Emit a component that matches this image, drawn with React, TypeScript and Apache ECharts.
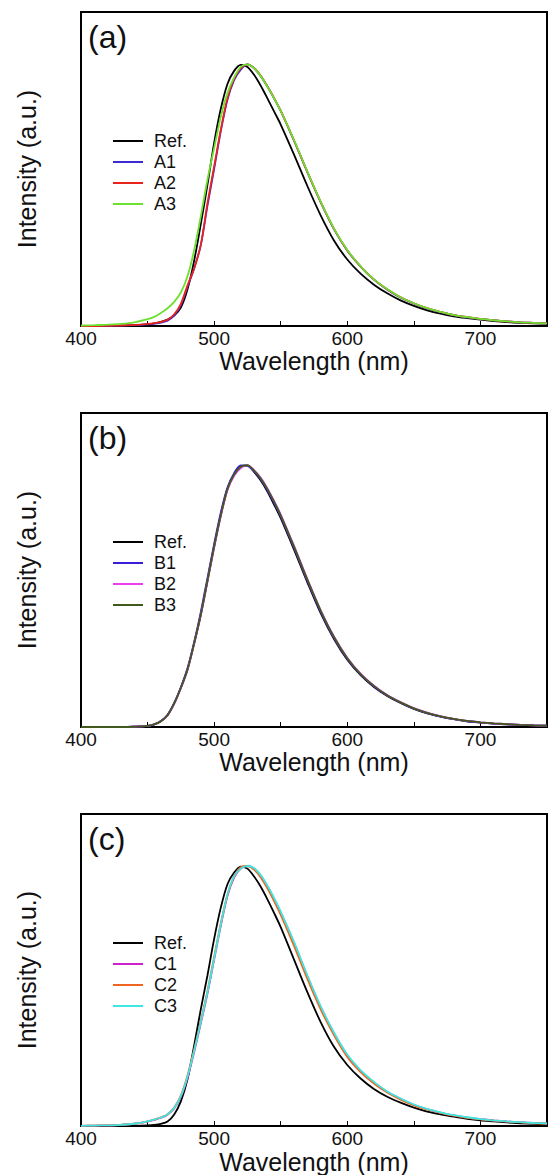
import React, { useEffect, useRef } from "react";
import * as echarts from "echarts";

// ---------- data ----------
const wavelengths = [
  400, 410, 420, 430, 440, 450,
  455, 460, 465, 470, 475, 480, 485, 490, 495, 500, 505, 510, 515, 520, 525, 530, 535, 540, 545, 550,
  560, 570, 580, 590, 600, 610, 620, 630, 640, 650, 660, 670, 680, 690, 700, 710, 720, 730, 740, 750,
];
const xTickValues = [400, 500, 600, 700];

// panel (a)
const refA = [
  0, 0, 0, 0.001, 0.003, 0.006,
  0.01, 0.016, 0.025, 0.04, 0.07, 0.14, 0.25, 0.39, 0.54, 0.7, 0.83, 0.925, 0.975, 0.998, 0.99, 0.96, 0.918, 0.87, 0.82, 0.77,
  0.655, 0.535, 0.423, 0.327, 0.254, 0.2, 0.158, 0.125, 0.098, 0.077, 0.06, 0.047, 0.037, 0.03, 0.024, 0.019, 0.015, 0.012, 0.01, 0.009,
];
const a1 = [
  0, 0, 0.001, 0.002, 0.003, 0.006,
  0.009, 0.013, 0.02, 0.04, 0.08, 0.15, 0.22, 0.31, 0.46, 0.6, 0.745, 0.865, 0.94, 0.98, 1.0, 0.985, 0.955, 0.915, 0.87, 0.822,
  0.708, 0.588, 0.473, 0.37, 0.288, 0.227, 0.177, 0.139, 0.109, 0.086, 0.067, 0.053, 0.042, 0.033, 0.027, 0.022, 0.018, 0.014, 0.012, 0.01,
];
const a2 = [
  0, 0, 0.001, 0.002, 0.004, 0.008,
  0.011, 0.016, 0.024, 0.045, 0.085, 0.155, 0.22, 0.31, 0.47, 0.61, 0.75, 0.87, 0.945, 0.985, 1.0, 0.986, 0.956, 0.916, 0.871, 0.823,
  0.709, 0.589, 0.474, 0.371, 0.289, 0.228, 0.178, 0.14, 0.11, 0.087, 0.068, 0.054, 0.042, 0.034, 0.027, 0.022, 0.018, 0.014, 0.012, 0.01,
];
const a3 = [
  0.002, 0.003, 0.005, 0.008, 0.014, 0.026,
  0.035, 0.05, 0.068, 0.092, 0.128, 0.19, 0.29, 0.42, 0.56, 0.68, 0.8, 0.89, 0.95, 0.99, 1.0, 0.985, 0.955, 0.915, 0.87, 0.822,
  0.71, 0.59, 0.475, 0.372, 0.29, 0.228, 0.178, 0.14, 0.11, 0.087, 0.068, 0.054, 0.042, 0.034, 0.027, 0.022, 0.018, 0.014, 0.012, 0.01,
];

// panel (b)
const refB = [
  0, 0, 0, 0, 0.001, 0.004,
  0.01, 0.022, 0.045, 0.09, 0.15, 0.22, 0.32, 0.43, 0.56, 0.69, 0.81, 0.91, 0.965, 0.995, 1.0, 0.975, 0.942, 0.9, 0.85, 0.798,
  0.678, 0.553, 0.435, 0.336, 0.257, 0.198, 0.153, 0.119, 0.092, 0.069, 0.052, 0.04, 0.03, 0.022, 0.017, 0.013, 0.01, 0.008, 0.006, 0.005,
];
const b1 = [
  0, 0, 0, 0, 0.001, 0.004,
  0.01, 0.023, 0.047, 0.092, 0.152, 0.225, 0.325, 0.44, 0.57, 0.7, 0.82, 0.915, 0.97, 1.0, 0.998, 0.977, 0.946, 0.905, 0.856, 0.804,
  0.684, 0.558, 0.44, 0.34, 0.26, 0.2, 0.155, 0.12, 0.093, 0.07, 0.053, 0.04, 0.03, 0.022, 0.017, 0.013, 0.01, 0.008, 0.006, 0.005,
];
const b2 = [
  0, 0, 0, 0, 0.001, 0.004,
  0.01, 0.022, 0.044, 0.088, 0.148, 0.218, 0.318, 0.428, 0.555, 0.685, 0.805, 0.905, 0.96, 0.99, 1.0, 0.982, 0.952, 0.912, 0.864, 0.812,
  0.692, 0.566, 0.447, 0.346, 0.265, 0.204, 0.158, 0.122, 0.095, 0.072, 0.055, 0.042, 0.031, 0.023, 0.018, 0.014, 0.011, 0.008, 0.006, 0.005,
];
const b3 = [
  0, 0, 0, 0, 0.001, 0.004,
  0.01, 0.022, 0.045, 0.09, 0.15, 0.22, 0.32, 0.43, 0.56, 0.69, 0.81, 0.91, 0.965, 0.995, 1.0, 0.98, 0.95, 0.909, 0.861, 0.809,
  0.689, 0.563, 0.445, 0.344, 0.263, 0.202, 0.157, 0.121, 0.094, 0.071, 0.054, 0.041, 0.031, 0.023, 0.018, 0.014, 0.011, 0.008, 0.006, 0.005,
];

// panel (c)
const refC = [
  0, 0, 0, 0, 0.001, 0.003,
  0.005, 0.009, 0.018, 0.045, 0.095, 0.18, 0.31, 0.45, 0.58, 0.72, 0.84, 0.93, 0.975, 0.998, 0.99, 0.96, 0.92, 0.872, 0.82, 0.765,
  0.64, 0.515, 0.4, 0.305, 0.235, 0.183, 0.143, 0.113, 0.09, 0.071, 0.056, 0.045, 0.036, 0.028, 0.022, 0.018, 0.014, 0.011, 0.009, 0.007,
];
const c1 = [
  0.001, 0.002, 0.003, 0.005, 0.009, 0.017,
  0.024, 0.032, 0.044, 0.068, 0.112, 0.186, 0.285, 0.395, 0.51, 0.64, 0.77, 0.885, 0.955, 0.99, 1.0, 0.99, 0.962, 0.922, 0.874, 0.822,
  0.705, 0.577, 0.458, 0.357, 0.272, 0.213, 0.168, 0.132, 0.105, 0.082, 0.065, 0.052, 0.041, 0.033, 0.027, 0.022, 0.018, 0.015, 0.012, 0.01,
];
const c2 = [
  0.001, 0.002, 0.003, 0.005, 0.009, 0.018,
  0.025, 0.034, 0.046, 0.071, 0.118, 0.195, 0.295, 0.405, 0.52, 0.65, 0.78, 0.89, 0.96, 0.995, 1.0, 0.986, 0.956, 0.914, 0.865, 0.812,
  0.693, 0.566, 0.449, 0.35, 0.266, 0.208, 0.164, 0.129, 0.102, 0.08, 0.064, 0.051, 0.04, 0.032, 0.026, 0.021, 0.017, 0.014, 0.011, 0.009,
];
const c3 = [
  0.001, 0.002, 0.003, 0.005, 0.009, 0.018,
  0.025, 0.033, 0.045, 0.07, 0.115, 0.19, 0.29, 0.4, 0.515, 0.645, 0.775, 0.89, 0.96, 0.99, 1.0, 0.992, 0.965, 0.925, 0.877, 0.825,
  0.708, 0.58, 0.461, 0.36, 0.275, 0.215, 0.17, 0.133, 0.106, 0.083, 0.066, 0.053, 0.042, 0.034, 0.027, 0.022, 0.018, 0.015, 0.012, 0.01,
];

const panelLabels = ["(a)", "(b)", "(c)"];
const panelNames = [
  ["Ref.", "A1", "A2", "A3"],
  ["Ref.", "B1", "B2", "B3"],
  ["Ref.", "C1", "C2", "C3"],
];
const panelValues = [
  [refA, a1, a2, a3],
  [refB, b1, b2, b3],
  [refC, c1, c2, c3],
];
const xAxisTitle = "Wavelength (nm)";
const yAxisTitle = "Intensity (a.u.)";

// ---------- styles ----------
const panelColors = [
  ["#000000", "#3a2bd6", "#e8231c", "#6ee030"],
  ["#000000", "#3a1fd8", "#f03cf0", "#3f5a1c"],
  ["#000000", "#cf22cf", "#f06420", "#3ee8e0"],
];
const FONT = "'Liberation Sans', Arial, Helvetica, sans-serif";
const GRID_LEFT = 81;
const GRID_WIDTH = 472;
const PANEL_TOPS = [12, 413, 814];
const PANEL_H = 314;

export default function App() {
  const ref = useRef<HTMLDivElement>(null);

  useEffect(() => {
    if (!ref.current) return;
    const chart = echarts.init(ref.current, null, { renderer: "svg" });

    const grid = PANEL_TOPS.map((top) => ({
      left: GRID_LEFT,
      top,
      width: GRID_WIDTH,
      height: PANEL_H,
      show: true,
      borderColor: "#000",
      borderWidth: 2,
      backgroundColor: "transparent",
    }));

    const xAxis = PANEL_TOPS.map((_, i) => ({
      type: "value",
      gridIndex: i,
      min: 400,
      max: 750,
      interval: 50,
      name: xAxisTitle,
      nameLocation: "middle",
      nameGap: 16,
      nameTextStyle: { fontSize: 25, fontFamily: FONT, color: "#111" },
      axisLine: { show: true, onZero: false, lineStyle: { color: "#000", width: 2 } },
      axisTick: { show: true, inside: true, length: 5, lineStyle: { color: "#000", width: 1 } },
      axisLabel: {
        margin: 3,
        fontSize: 19,
        fontFamily: FONT,
        color: "#111",
        formatter: (v: number) => (xTickValues.includes(v) ? String(v) : ""),
      },
      splitLine: { show: false },
    }));

    const yAxis = PANEL_TOPS.map((_, i) => ({
      type: "value",
      gridIndex: i,
      min: 0,
      max: 1.2,
      name: yAxisTitle,
      nameLocation: "middle",
      nameGap: 42,
      nameRotate: 90,
      nameTextStyle: { fontSize: 25, fontFamily: FONT, color: "#111" },
      axisLine: { show: true, lineStyle: { color: "#000", width: 2 } },
      axisTick: { show: false },
      axisLabel: { show: false },
      splitLine: { show: false },
    }));

    const series: any[] = [];
    panelValues.forEach((vals, p) => {
      vals.forEach((arr, s) => {
        series.push({
          type: "line",
          name: panelNames[p][s],
          xAxisIndex: p,
          yAxisIndex: p,
          data: wavelengths.map((w, k) => [w, arr[k]]),
          showSymbol: false,
          symbol: "none",
          smooth: 0.3,
          color: panelColors[p][s],
          lineStyle: { color: panelColors[p][s], width: 1.8 },
          z: 2 + s,
        });
      });
    });

    const legend = PANEL_TOPS.map((top, p) => ({
      orient: "vertical",
      left: 113,
      top: top + 120,
      padding: 0,
      icon: "rect",
      itemWidth: 30,
      itemHeight: 2,
      itemGap: 3,
      selectedMode: false,
      textStyle: { fontSize: 18, fontFamily: FONT, color: "#111", padding: [0, 0, 0, 6] },
      data: panelNames[p].map((n, s) => ({ name: n, itemStyle: { color: panelColors[p][s] } })),
    }));

    const graphic = PANEL_TOPS.map((top, p) => ({
      type: "text",
      x: 88,
      y: top + 25,
      style: {
        text: panelLabels[p],
        fontSize: 32,
        fontFamily: FONT,
        fill: "#111",
        verticalAlign: "middle",
      },
    }));

    chart.setOption({
      animation: false,
      backgroundColor: "#fff",
      grid,
      xAxis,
      yAxis,
      legend,
      graphic,
      series,
    } as any);

    return () => chart.dispose();
  }, []);

  return (
    <div
      ref={ref}
      style={{ position: "absolute", left: 0, top: 0, width: 550, height: 1175 }}
    />
  );
}
